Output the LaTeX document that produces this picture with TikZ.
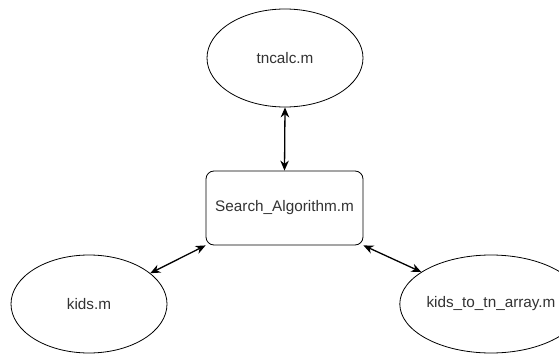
\documentclass[tikz,border=0pt]{standalone}
\usepackage{fontspec}
\setmainfont{Liberation Sans}
\usetikzlibrary{shapes.geometric,arrows.meta}

\tikzset{
  file/.style={ellipse,draw,line width=.8pt,minimum width=156pt,minimum height=98pt,inner sep=0pt,text=black!80,font=\fontsize{15.3}{18}\selectfont},
  mainfile/.style={rectangle,rounded corners=8pt,draw,line width=.8pt,minimum width=157pt,minimum height=74pt,inner sep=0pt,text=black!80,font=\fontsize{15.3}{18}\selectfont},
  link/.style={{Stealth[length=10pt,width=8.5pt]}-{Stealth[length=10pt,width=8.5pt]},line width=1.3pt}
}

\begin{document}
\begin{tikzpicture}[x=1pt,y=1pt]

\clip (0,0) rectangle (559,354);
\fill[white] (0,0) rectangle (559,354);

\node[file] (tncalc) at (285,296) {tncalc.m};
\node[mainfile] (search) at (284.5,146) {Search\_Algorithm.m};
\node[file] (kids) at (89,50) {kids.m};
\node[file] (kidstotn) at (491,50) {kids\_to\_tn\_array.m};

\draw[link] (tncalc.south) -- (search.north);
\draw[link] (kids) -- (search.south west);
\draw[link] (search.south east) -- (kidstotn);

\end{tikzpicture}
\end{document}
